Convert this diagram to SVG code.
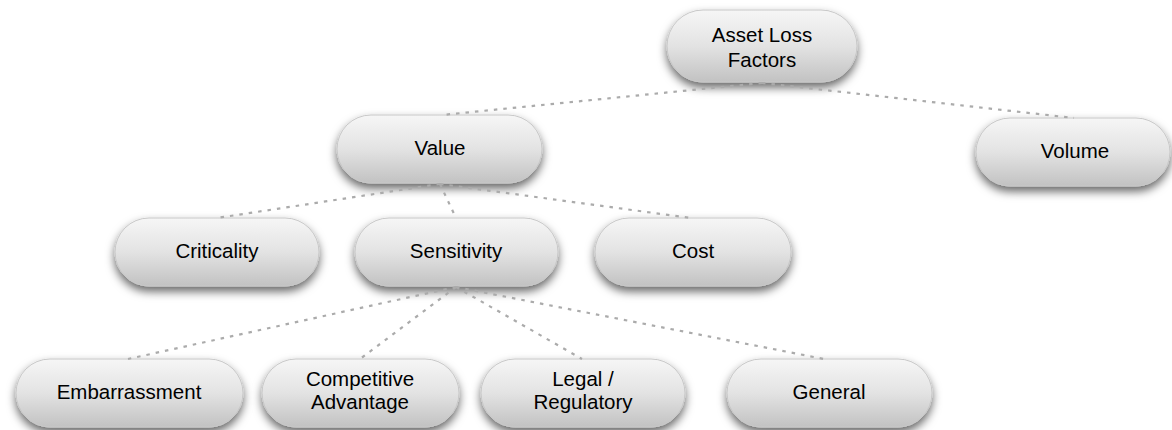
<svg xmlns="http://www.w3.org/2000/svg" width="1172" height="430" viewBox="0 0 1172 430">
  <defs>
    <linearGradient id="g" x1="0" y1="0" x2="0" y2="1">
      <stop offset="0" stop-color="#f6f6f6"/>
      <stop offset="0.5" stop-color="#e3e3e3"/>
      <stop offset="1" stop-color="#c2c2c2"/>
    </linearGradient>
    <filter id="sh" x="-20%" y="-30%" width="140%" height="180%">
      <feDropShadow dx="0" dy="5" stdDeviation="5" flood-color="#000" flood-opacity="0.6"/>
    </filter>
  </defs>
  <style>
    .box { fill: url(#g); stroke: #c8c8c8; stroke-width: 1; filter: url(#sh); }
    .lbl { font-family: "Liberation Sans", Arial, sans-serif; font-size: 20.5px; fill: #000; text-anchor: middle; }
    .edge { stroke: #ababab; stroke-width: 2.2; stroke-dasharray: 3.5 6; fill: none; }
  </style>
  <rect width="1172" height="430" fill="#ffffff"/>

  <g id="n-asset">
    <rect class="box" x="667" y="10" width="190" height="72" rx="36"/>
    <text class="lbl" x="762" y="42">Asset Loss</text>
    <text class="lbl" x="762" y="67">Factors</text>
  </g>
  <g id="n-value">
    <rect class="box" x="337" y="115" width="205" height="68" rx="34"/>
    <text class="lbl" x="440" y="155">Value</text>
  </g>
  <g id="n-volume">
    <rect class="box" x="976" y="118" width="194" height="68" rx="34"/>
    <text class="lbl" x="1075" y="158">Volume</text>
  </g>
  <g id="n-criticality">
    <rect class="box" x="115" y="218" width="204" height="68" rx="34"/>
    <text class="lbl" x="217" y="258">Criticality</text>
  </g>
  <g id="n-sensitivity">
    <rect class="box" x="355" y="218" width="203" height="68" rx="34"/>
    <text class="lbl" x="456" y="258">Sensitivity</text>
  </g>
  <g id="n-cost">
    <rect class="box" x="595" y="218" width="196" height="68" rx="34"/>
    <text class="lbl" x="693" y="258">Cost</text>
  </g>
  <g id="n-embarrassment">
    <rect class="box" x="16" y="359" width="227" height="68" rx="34"/>
    <text class="lbl" x="129" y="399">Embarrassment</text>
  </g>
  <g id="n-competitive">
    <rect class="box" x="262" y="359" width="197" height="68" rx="34"/>
    <text class="lbl" x="360" y="386">Competitive</text>
    <text class="lbl" x="360" y="409">Advantage</text>
  </g>
  <g id="n-legal">
    <rect class="box" x="481" y="359" width="204" height="68" rx="34"/>
    <text class="lbl" x="583" y="386">Legal /</text>
    <text class="lbl" x="583" y="409">Regulatory</text>
  </g>
  <g id="n-general">
    <rect class="box" x="727" y="359" width="205" height="68" rx="34"/>
    <text class="lbl" x="829" y="399">General</text>
  </g>

  <g id="connectors">
    <line class="edge" x1="762" y1="83" x2="442" y2="115"/>
    <line class="edge" x1="762" y1="83" x2="1074" y2="118"/>
    <line class="edge" x1="440" y1="184" x2="217" y2="218"/>
    <line class="edge" x1="440" y1="184" x2="456" y2="218"/>
    <line class="edge" x1="440" y1="184" x2="691" y2="218"/>
    <line class="edge" x1="456" y1="287" x2="128" y2="359"/>
    <line class="edge" x1="456" y1="287" x2="360" y2="359"/>
    <line class="edge" x1="456" y1="287" x2="582" y2="359"/>
    <line class="edge" x1="456" y1="287" x2="824" y2="359"/>
  </g>
</svg>
